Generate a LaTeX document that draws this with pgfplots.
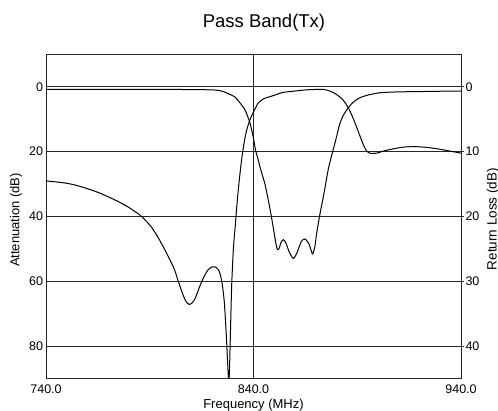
\documentclass[border=0pt]{standalone}
\usepackage{fontspec}
\setmainfont{Liberation Sans}
\usepackage{pgfplots}
\pgfplotsset{compat=1.18}
\begin{document}
\begin{tikzpicture}
\useasboundingbox (0,0) rectangle (498pt,410pt);
\pgfplotsset{
  common/.style={
    at={(46pt,31.7pt)}, anchor=south west,
    scale only axis, width=415pt, height=324pt,
    xmin=740, xmax=940, y dir=reverse,
    major tick length=0pt,
    /pgf/number format/assume math mode=true,
    ticklabel style={font=\fontsize{12.5}{14}\selectfont},
  }
}
\begin{axis}[common,
  ymin=-10, ymax=90,
  xtick={740,840,940}, ytick={0,20,40,60,80},
  xmajorgrids, ymajorgrids,
  grid style={black!85, line width=0.6pt},
  axis line style={black!85, line width=0.8pt},
  xticklabel style={/pgf/number format/fixed, /pgf/number format/fixed zerofill, /pgf/number format/precision=1, anchor=base, inner sep=0pt, yshift=-15pt},
  yticklabel style={anchor=east, inner sep=0pt, xshift=-2.7pt},
]
\addplot[black, line width=1pt, smooth, tension=0.4] coordinates {
(740,29.1) (745,29.4) (750,29.8) (755,30.5) (760,31.5) (765,32.6) (770,34.0)
(775,35.5) (780,37.3) (785,39.5) (788,41.3) (791,43.5) (794,46.5) (797,50.0)
(800,53.8) (802,56.6) (804,60.5) (806,64.2) (807.5,66.3) (809,67.2) (810.5,66.7)
(812,65.2) (814,61.8) (816,58.8) (818,56.6) (820,55.6) (821.5,55.6) (823,56.4)
(824,58.0) (825,61.2) (826,67.0) (827,78.0) (827.6,86) (828,90.5) (828.4,88)
(829,73) (829.5,61) (830.3,50) (831.2,43) (832.2,35) (833.2,28.5) (834.3,22.4)
(835.5,17.2) (836.7,13.4) (838.3,10.2) (840,7.8) (842.3,5.0) (845,3.7)
(848.8,2.9) (854,1.8) (859,1.4) (865,1.0) (870,0.85) (874,0.85) (877,1.4)
(880,2.4) (883,4.0) (885.7,6.5) (888.5,10.5) (891.3,15.2) (893,18.0) (894.6,19.9)
(896.5,20.6) (899.4,20.5) (903,19.8) (908,19.1) (913,18.6) (918,18.5) (923,18.7)
(928,19.1) (934,19.8) (940,20.5)
};
\end{axis}
\begin{axis}[common,
  ymin=-5, ymax=45,
  axis y line*=right, axis x line=none,
  ytick={0,10,20,30,40},
  ytick style={black!85, line width=0.6pt},
  major tick length=3pt, tick align=outside,
  axis line style={black!85, line width=0.8pt},
  yticklabel style={anchor=west, inner sep=0pt, xshift=1.3pt},
]
\addplot[black, line width=1pt, smooth, tension=0.4] coordinates {
(740,0.4) (760,0.4) (780,0.4) (800,0.42) (812,0.45) (821,0.5) (825,0.7)
(828.7,1.2) (831.1,1.6) (833.5,2.5) (835.9,3.6) (838.3,5.6) (840,8.0) (841,9.8)
(842.2,11.2) (843.5,12.8) (845.5,15) (847,17.3) (848.5,19.8) (849.8,22.3)
(850.8,24.2) (851.5,25.1) (852.3,25.0) (853.3,24.0) (854.4,23.6) (855.6,24.1)
(857.2,25.5) (859.2,26.5) (861,25.6) (863,23.9) (864.8,23.5) (866.8,24.3)
(868.4,25.8) (869.5,24.8) (870.5,22.5) (872,19.7) (874,16.4) (876,12.8)
(877.5,10.8) (879,9.0) (880.5,7.1) (881.7,5.6) (883.5,4.3) (885.7,3.24)
(888,2.4) (891.3,1.7) (895,1.3) (901,0.93) (910,0.8) (920,0.75) (930,0.7) (940,0.68)
};
\end{axis}
\node[anchor=base, font=\fontsize{18.5}{20}\selectfont] at (264pt,382pt) {Pass Band(Tx)};
\node[anchor=base, inner sep=0pt, font=\fontsize{13}{15}\selectfont] at (253.5pt,1.7pt) {Frequency (MHz)};
\node[anchor=base, inner sep=0pt, rotate=90, font=\fontsize{13}{15}\selectfont] at (19.5pt,190pt) {Attenuation (dB)};
\node[anchor=base, inner sep=0pt, rotate=90, font=\fontsize{13.5}{15}\selectfont] at (496.5pt,191pt) {Return Loss (dB)};
\end{tikzpicture}
\end{document}
